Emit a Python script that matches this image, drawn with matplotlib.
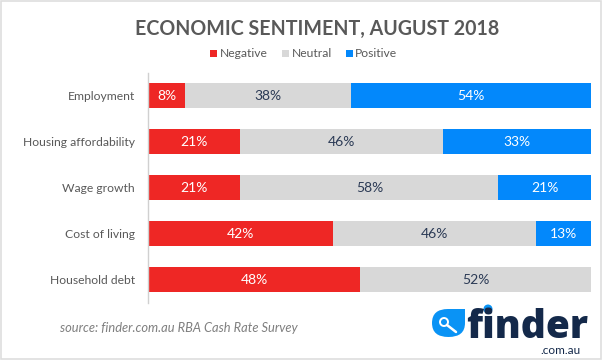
import matplotlib
matplotlib.use("Agg")
import matplotlib.pyplot as plt
from matplotlib.patches import Rectangle, Circle, PathPatch
from matplotlib.path import Path

categories = ["Employment", "Housing affordability", "Wage growth", "Cost of living", "Household debt"]
negative = [8.3, 20.8, 20.8, 41.7, 47.9]
neutral = [37.5, 45.8, 58.3, 45.8, 52.1]
positive = [54.2, 33.4, 20.9, 12.5, 0]
neg_labels = ["8%", "21%", "21%", "42%", "48%"]
neu_labels = ["38%", "46%", "58%", "46%", "52%"]
pos_labels = ["54%", "33%", "21%", "13%", ""]
series_names = ["Negative", "Neutral", "Positive"]
RED, GREY, BLUE = "#EE2725", "#D8D8D8", "#0388FB"
W, H = 602, 360

plt.rcParams['font.family'] = ['Lato', 'DejaVu Sans']
fig = plt.figure(figsize=(W/100, H/100), dpi=100)

ov = fig.add_axes([0, 0, 1, 1], zorder=5)
ov.set_xlim(0, W); ov.set_ylim(H, 0); ov.axis('off'); ov.patch.set_alpha(0)

ax = fig.add_axes([148.3/W, 1-302.5/H, 442.7/W, 230/H])
ax.set_xlim(0, 100); ax.set_ylim(4.5, -0.5)
y = list(range(len(categories)))
left2 = [a+b for a, b in zip(negative, neutral)]
for vals, lefts, col, labs, tc in [
    (negative, [0]*5, RED, neg_labels, "white"),
    (neutral, negative, GREY, neu_labels, "#2B3A55"),
    (positive, left2, BLUE, pos_labels, "white")]:
    bars = ax.barh(y, vals, left=lefts, height=0.565, color=col, linewidth=0)
    for b, lab in zip(bars, labs):
        if lab:
            ax.text(b.get_x()+b.get_width()/2, b.get_y()+b.get_height()/2+0.01, lab,
                    ha='center', va='center', color=tc, fontsize=10)
ax.set_yticks(y, categories, fontsize=8.7, color="#595959")
ax.tick_params(axis='y', length=0, pad=9.5)
ax.set_xticks([])
for s in ['top', 'right', 'bottom']:
    ax.spines[s].set_visible(False)
ax.spines['left'].set_color("#D0D0D0")
ax.spines['left'].set_linewidth(1)

# border
ov.add_patch(Rectangle((0.75, 0.75), W-1.5, H-1.5, fill=False, ec="#DEDEDE", lw=1.2))

# title
ov.text(317.5, 29, "ECONOMIC SENTIMENT, AUGUST 2018", ha='center', va='center',
        fontsize=14.1, fontweight='bold', color="#595959")

# legend
for x0, tx, name, col in [(210, 220, series_names[0], RED), (282, 292, series_names[1], GREY), (346, 355, series_names[2], BLUE)]:
    ov.add_patch(Rectangle((x0, 50), 7, 7, fc=col, ec='none'))
    ov.text(tx, 53.5, name, ha='left', va='center', fontsize=8.7, color="#595959")

# source
ov.text(60, 328, "source: finder.com.au RBA Cash Rate Survey", ha='left', va='center',
        fontsize=9.3, style='italic', color="#7F7F7F")

# logo
drop = Path([(432, 323), (432, 309), (448, 309), (465, 309), (465, 323), (465, 337), (448.5, 337), (432, 337), (432, 323), (432, 323)],
            [Path.MOVETO, Path.CURVE3, Path.CURVE3, Path.LINETO, Path.LINETO, Path.CURVE3, Path.CURVE3, Path.CURVE3, Path.CURVE3, Path.CLOSEPOLY])
ov.add_patch(PathPatch(drop, fc="#0A93F5", ec='none'))
ov.add_patch(Circle((444, 322), 4, fc='none', ec='white', lw=1.4))
ov.plot([447, 456], [325, 332], color='white', lw=1.8, solid_capstyle='round')
ov.text(527.5, 327, "finder", ha='center', va='center', fontsize=28, fontweight='black',
        color="#14294A", family=['Open Sans', 'DejaVu Sans'])
ov.add_patch(Circle((488, 309), 4.5, fc="#0A93F5", ec='none'))
ov.text(580, 350, ".com.au", ha='right', va='center', fontsize=8.5, color="#14294A")

fig.savefig("out.png", dpi=100)
